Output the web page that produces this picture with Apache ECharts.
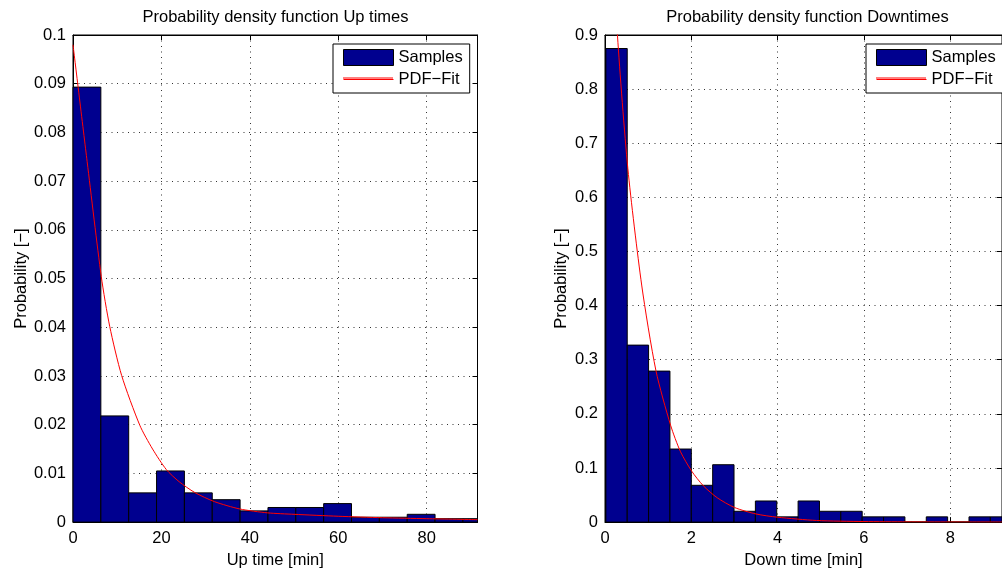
<!DOCTYPE html>
<html>
<head>
<meta charset="utf-8">
<script src="https://cdn.jsdelivr.net/npm/echarts@6/dist/echarts.min.js"></script>
<style>
html,body{margin:0;padding:0;background:#fff;}
#c{width:1002px;height:574px;}
</style>
</head>
<body>
<div id="c"></div>
<script>
// ---- Data ----
// Up times histogram (bin edges in min, density per bin)
var upEdges = [0, 6.3, 12.6, 18.9, 25.2, 31.5, 37.8, 44.1, 50.4, 56.7, 63.0, 69.3, 75.6, 81.9, 88.2, 94.5];
var upDensity = [0.0893, 0.0218, 0.0060, 0.0105, 0.0060, 0.0046, 0.0023, 0.0030, 0.0030, 0.0038, 0.0010, 0.0010, 0.0016, 0.0007, 0.0007];
var upFitX = [0, 3.2, 6.4, 8.3, 11.0, 15.1, 18.0, 21.1, 24.0, 27.5, 32.0, 37.7, 44.0, 50.0, 60.0, 70.0, 80.0, 91.5];
var upFitY = [0.098, 0.074, 0.0504, 0.0402, 0.0301, 0.0199, 0.0150, 0.0108, 0.0083, 0.0061, 0.0042, 0.0027, 0.0019, 0.0016, 0.0012, 0.0009, 0.0007, 0.0005];
var upXMax = 91.5;

// Down times histogram
var downEdges = [0.02, 0.515, 1.01, 1.505, 2.0, 2.495, 2.99, 3.485, 3.98, 4.475, 4.97, 5.465, 5.96, 6.455, 6.95, 7.445, 7.94, 8.435, 8.93, 9.425];
var downDensity = [0.875, 0.327, 0.279, 0.135, 0.068, 0.106, 0.020, 0.039, 0.0097, 0.039, 0.020, 0.020, 0.0097, 0.0097, 0, 0.0097, 0, 0.0097, 0.0097];
var downFitX = [0, 0.29, 0.53, 0.85, 1.18, 1.52, 1.75, 2.01, 2.28, 2.6, 3.0, 3.5, 4.0, 4.9, 6.0, 7.0, 8.0, 9.2];
var downFitY = [1.31, 0.898, 0.653, 0.438, 0.28, 0.179, 0.13, 0.094, 0.067, 0.045, 0.027, 0.015, 0.009, 0.003, 0.001, 0.0004, 0.0002, 0.0001];
var downXMax = 9.2;

// Text
var titles = ['Probability density function Up times', 'Probability density function Downtimes'];
var xNames = ['Up time [min]', 'Down time [min]'];
var yName = 'Probability [\u2212]';
var legendNames = ['Samples', 'PDF\u2212Fit'];

// ---- Build ----
function histData(edges, dens) {
  var out = [];
  for (var i = 0; i < dens.length; i++) out.push([edges[i], edges[i + 1], dens[i]]);
  return out;
}
function pairs(xs, ys) {
  var out = [];
  for (var i = 0; i < xs.length; i++) out.push([xs[i], ys[i]]);
  return out;
}
var BAR = '#00008F';
var RED = '#FF0000';
var CLEAR = 'rgba(255,0,0,0)';
var FONT = 'Liberation Sans, Arial, Helvetica, sans-serif';
var FS = 16.5;
var LEG_LEFT = [333, 866], LEG_TOP = 44, LEG_PAD = [5, 7, 5, 10], LEG_W = 50, LEG_H = 16, LEG_GAP = 5;

function renderBar(params, api) {
  var x0 = api.value(0), x1 = api.value(1), y = api.value(2);
  var p0 = api.coord([x0, y]);
  var p1 = api.coord([x1, 0]);
  var rect = { x: p0[0], y: p0[1], width: p1[0] - p0[0], height: p1[1] - p0[1] };
  var cs = params.coordSys;
  var clipped = echarts.graphic.clipRectByRect(rect, { x: cs.x, y: cs.y, width: cs.width, height: cs.height + 1 });
  if (!clipped) return null;
  return { type: 'rect', shape: clipped, style: { fill: BAR, stroke: '#000', lineWidth: 1 } };
}

var grids = [
  { left: 73, top: 35, width: 404.5, height: 493.5 },
  { left: 605, top: 35, width: 404.5, height: 493.5 }
];

function mkX(gi, max, interval, pos, name) {
  var main = pos === 'bottom';
  return {
    gridIndex: gi, type: 'value', min: 0, max: max, interval: interval, position: pos,
    axisLine: { show: true, onZero: false, lineStyle: { color: '#000', width: 1 } },
    axisTick: { show: true, inside: true, length: 5, lineStyle: { color: '#000' } },
    axisLabel: { show: main, margin: 8, color: '#000', fontSize: FS, fontFamily: FONT, showMaxLabel: false },
    splitLine: { show: main, lineStyle: { color: '#333', type: [1, 4.5], width: 1 } },
    name: main ? name : '', nameLocation: 'middle', nameGap: 25,
    nameTextStyle: { color: '#000', fontSize: FS, fontFamily: FONT }
  };
}
function mkY(gi, max, interval, pos, nameGap) {
  var main = pos === 'left';
  return {
    gridIndex: gi, type: 'value', min: 0, max: max, interval: interval, position: pos,
    axisLine: { show: true, onZero: false, lineStyle: { color: '#000', width: 1 } },
    axisTick: { show: true, inside: true, length: 5, lineStyle: { color: '#000' } },
    axisLabel: { show: main, margin: 7, color: '#000', fontSize: FS, fontFamily: FONT },
    splitLine: { show: main, lineStyle: { color: '#333', type: [1, 4.5], width: 1 } },
    name: main ? yName : '', nameLocation: 'middle', nameGap: nameGap,
    nameTextStyle: { color: '#000', fontSize: FS, fontFamily: FONT, lineHeight: 17 }
  };
}

function mkLegend(left) {
  return {
    orient: 'vertical', left: left, top: LEG_TOP,
    padding: LEG_PAD, itemGap: LEG_GAP, itemWidth: LEG_W, itemHeight: LEG_H,
    backgroundColor: '#fff', borderColor: '#000', borderWidth: 1, borderRadius: 0,
    selectedMode: false,
    lineStyle: { width: 1, color: RED },
    textStyle: { color: '#000', fontSize: FS, fontFamily: FONT, lineHeight: 16, padding: [0, 0, 0, 0] },
    data: [
      { name: legendNames[0], icon: 'rect', itemStyle: { color: BAR, borderColor: '#000', borderWidth: 1 } },
      { name: legendNames[1] }
    ]
  };
}

// red key line of the legend's second entry (legend decoration, not data)
function legendKeyLine(left) {
  var x = left + LEG_PAD[3];
  var y = LEG_TOP + LEG_PAD[0] + LEG_H + LEG_GAP + LEG_H / 2;
  return { type: 'line', z: 100, silent: true,
    shape: { x1: x, y1: y, x2: x + LEG_W, y2: y },
    style: { stroke: RED, lineWidth: 1 } };
}

function fitSeries(xi, yi, xs, ys) {
  return { name: legendNames[1], type: 'line', xAxisIndex: xi, yAxisIndex: yi,
    symbol: 'none', showSymbol: false, smooth: 0.25, clip: true,
    lineStyle: { color: RED, width: 1 }, itemStyle: { color: CLEAR, borderWidth: 0 },
    data: pairs(xs, ys), z: 3 };
}

var option = {
  animation: false,
  backgroundColor: '#fff',
  textStyle: { fontFamily: FONT },
  title: [
    { text: titles[0], left: 275.5, top: 8, textAlign: 'center', padding: 0,
      textStyle: { fontSize: FS, fontWeight: 'normal', color: '#000', fontFamily: FONT, lineHeight: 18 } },
    { text: titles[1], left: 807.5, top: 8, textAlign: 'center', padding: 0,
      textStyle: { fontSize: FS, fontWeight: 'normal', color: '#000', fontFamily: FONT, lineHeight: 18 } }
  ],
  legend: [mkLegend(LEG_LEFT[0]), mkLegend(LEG_LEFT[1])],
  graphic: [legendKeyLine(LEG_LEFT[0]), legendKeyLine(LEG_LEFT[1])],
  grid: grids.map(function (g) { return Object.assign({ show: true, borderColor: '#000', borderWidth: 1, backgroundColor: '#fff' }, g); }),
  xAxis: [
    mkX(0, upXMax, 20, 'bottom', xNames[0]),
    mkX(0, upXMax, 20, 'top', ''),
    mkX(1, downXMax, 2, 'bottom', xNames[1]),
    mkX(1, downXMax, 2, 'top', '')
  ],
  yAxis: [
    mkY(0, 0.1, 0.01, 'left', 42),
    mkY(0, 0.1, 0.01, 'right', 0),
    mkY(1, 0.9, 0.1, 'left', 35),
    mkY(1, 0.9, 0.1, 'right', 0)
  ],
  series: [
    { name: legendNames[0], type: 'custom', xAxisIndex: 0, yAxisIndex: 0,
      renderItem: renderBar, encode: { x: [0, 1], y: 2 },
      itemStyle: { color: BAR, borderColor: '#000', borderWidth: 1 },
      data: histData(upEdges, upDensity), z: 2 },
    fitSeries(0, 0, upFitX, upFitY),
    { name: legendNames[0], type: 'custom', xAxisIndex: 2, yAxisIndex: 2,
      renderItem: renderBar, encode: { x: [0, 1], y: 2 },
      itemStyle: { color: BAR, borderColor: '#000', borderWidth: 1 },
      data: histData(downEdges, downDensity), z: 2 },
    fitSeries(2, 2, downFitX, downFitY)
  ]
};

var chart = echarts.init(document.getElementById('c'), null, { renderer: 'canvas' });
chart.setOption(option);
</script>
</body>
</html>
